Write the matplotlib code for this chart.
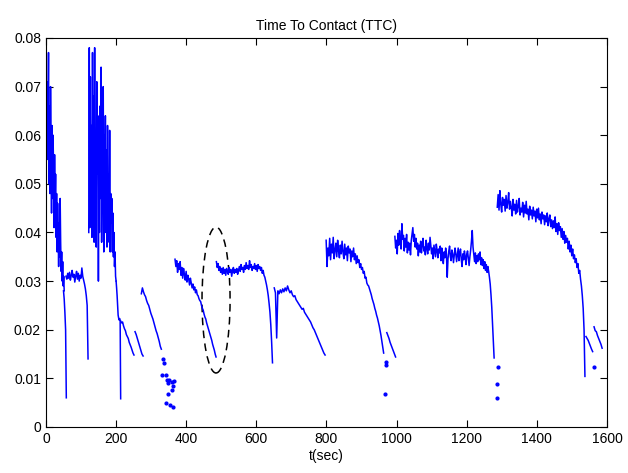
import numpy as np
import matplotlib.pyplot as plt
from matplotlib.patches import Ellipse

plt.rcParams['font.family'] = ['Liberation Sans', 'DejaVu Sans']

# TTC samples, values in units of 1e-3
# each segment: start time, end time (sec), samples
seg_a = [62, 70, 55, 71, 64, 77, 50, 66, 48, 70, 58, 44, 62, 47, 60, 53, 41, 56, 45,
         52, 39, 48, 36, 46, 40, 33, 42, 35, 47, 38, 32, 36, 30, 34, 29, 31, 28]
seg_a_drop = [28.0, 26.3, 23.5, 20.0, 6.0]
seg_b = [31.0, 30.4, 31.6, 30.6, 31.8, 30.2, 31.2, 32.2, 30.8, 31.4, 29.8, 31.0, 32.0,
         30.4, 31.6, 30.0, 31.2, 30.6, 32.7, 31.0, 30.2, 29.4, 28.4, 27.0, 25.0, 14.0]
seg_c = [40, 78, 41, 72, 45, 62, 39, 77, 50, 68, 38, 78, 44, 60, 37, 71, 52, 64, 30, 58,
         40, 66, 47, 74, 38, 55, 44, 70, 36, 60, 48, 64, 40, 57, 37, 62, 45, 52, 38, 61,
         36, 48, 42, 47, 36, 44, 35, 40, 33, 36, 31, 30]
seg_c_tail = [30.0, 28.6, 27.0, 25.0, 23.0, 22.4, 22.0, 22.3, 21.8, 5.8]
seg_d = [21.8, 21.4, 21.6, 20.8, 20.2, 19.8, 19.0, 18.6, 18.2, 17.4, 16.9, 16.4, 15.8,
         15.2, 14.8]
seg_e = [19.6, 19.0, 18.2, 17.4, 16.6, 15.8, 15.0, 14.6]
seg_f = [27.4, 28.6, 27.8, 27.2, 26.8, 26.0, 25.4, 25.0, 24.2, 23.4, 22.8, 22.2, 21.4,
         20.6, 19.8, 19.2, 18.4, 17.6, 16.6, 16.0]
seg_g = [34.5, 33.0, 34.2, 31.8, 33.6, 32.4, 34.0, 31.2, 32.8, 30.6, 32.6, 31.4, 30.2,
         32.0, 29.8, 31.2, 30.4, 29.2, 30.6, 29.6, 28.6, 29.4, 28.2, 28.8, 27.6, 28.2,
         27.2, 27.0, 26.4, 26.0, 25.8, 25.0, 24.4, 24.0, 23.2, 22.6, 22.2, 21.4, 20.8,
         20.2, 19.6, 19.0, 18.4, 17.8, 17.0, 16.4, 15.8, 15.0, 14.4]
seg_h = [34.0, 32.8, 33.6, 32.2, 33.0, 31.8, 32.6, 31.4, 32.8, 31.6, 32.4, 31.2, 32.6,
         32.0, 31.4, 32.8, 31.8, 32.4, 31.0, 32.2, 32.8, 31.6, 32.4, 31.8, 32.6, 31.4,
         32.2, 33.0, 32.0, 33.4, 32.4, 32.8, 31.8, 33.2, 32.4, 33.8, 32.6, 33.2, 32.4,
         34.2, 32.8, 33.4, 32.2, 33.0, 32.6, 33.6, 32.4, 33.2, 32.0, 33.4, 32.6, 33.0,
         32.2, 32.8, 31.6, 32.2, 31.2, 30.8, 30.0, 29.2, 28.2, 27.0, 25.4, 23.6, 21.0,
         17.4, 13.2]
seg_i = [28.6, 27.6, 18.3, 28.0, 27.4, 28.2, 27.6, 28.4, 27.8, 28.6, 28.0, 29.0, 28.2,
         27.6, 28.0, 27.2, 26.8, 27.0, 26.2, 25.8, 25.4, 25.0, 24.6, 24.2, 24.4, 23.6,
         23.2, 22.8, 22.4, 22.0, 21.6, 21.0, 20.4, 20.0, 19.4, 18.8, 18.2, 17.6, 17.0,
         16.4, 15.8, 15.2, 14.8]
seg_j = [38.4, 33.0, 36.8, 35.2, 38.8, 34.4, 37.6, 35.8, 39.0, 34.6, 36.4, 37.8, 35.0,
         38.4, 36.2, 34.8, 37.4, 35.6, 38.2, 36.0, 34.6, 37.6, 35.4, 36.8, 34.2, 37.2,
         35.8, 36.6, 34.0, 36.2, 35.0, 36.8, 34.4, 35.6, 33.6, 35.2, 33.8, 34.4, 32.8,
         33.6, 32.4, 32.8, 31.6, 32.0, 30.6, 30.8, 29.6, 29.2, 29.0, 28.4, 27.8, 27.2,
         26.4, 25.8, 25.2, 24.4, 23.8, 23.0, 22.4, 21.6, 20.8, 19.8, 18.8, 17.6, 16.4,
         15.2]
seg_k = [19.4, 18.8, 18.2, 17.4, 16.8, 16.2, 15.6, 15.0, 14.4]
seg_l = [39.2, 36.8, 38.4, 35.6, 39.8, 37.4, 40.4, 38.2, 36.6, 41.8, 38.6, 39.4, 36.2,
         38.8, 37.0, 39.6, 35.8, 38.0, 36.4, 37.8, 35.4, 38.4, 39.8, 41.0, 38.2, 39.6,
         37.0, 38.8, 36.6, 37.8, 35.2, 37.4, 36.0, 38.2, 35.8, 37.6, 38.8, 36.2, 37.0,
         35.4, 38.4, 36.8, 35.6, 37.8, 36.4, 39.0, 37.2, 35.6, 36.8, 34.6, 37.4, 36.2,
         35.0, 37.6, 36.4, 34.8, 36.6, 35.8, 37.2, 34.2, 36.8, 35.4, 33.6, 36.0, 34.8,
         36.8, 35.4, 30.8, 34.6, 36.2, 37.2, 35.0, 34.2, 36.4, 35.6, 33.8, 35.2, 36.8,
         35.6, 34.0, 35.4, 36.8, 34.2, 35.8, 36.6, 34.4, 33.0, 35.6, 34.4, 36.2, 35.0,
         33.4, 35.6, 36.2, 34.6, 33.2, 35.0, 36.4, 38.2, 40.4, 37.0, 35.4, 34.0, 35.8,
         33.6, 35.2, 34.0, 35.6, 34.4, 36.0, 33.4, 34.8, 33.2, 34.4, 32.6, 34.0, 32.2,
         33.4, 31.8, 33.0, 32.0, 30.8, 29.4, 27.2, 24.6, 21.0, 17.6, 14.2]
seg_m = [45.2, 47.8, 44.6, 48.6, 45.8, 44.2, 47.2, 45.6, 46.8, 44.4, 47.6, 45.0, 46.2,
         48.2, 44.8, 46.4, 45.2, 43.4, 46.8, 44.6, 45.8, 43.8, 46.6, 44.2, 45.4, 47.0,
         43.6, 45.0, 44.2, 46.2, 43.2, 45.6, 44.0, 46.4, 43.8, 44.8, 42.6, 45.4, 43.6,
         44.6, 42.8, 45.2, 43.4, 44.4, 42.2, 44.8, 43.0, 45.0, 42.6, 43.8, 41.8, 44.2,
         42.8, 43.6, 41.6, 43.4, 42.2, 44.0, 41.4, 42.8, 43.6, 41.2, 42.6, 40.8, 42.4,
         41.0, 43.2, 40.2, 41.8, 39.6, 42.0, 40.4, 41.2, 39.0, 40.8, 38.6, 40.2, 37.8,
         39.4, 38.0, 38.8, 36.6, 38.2, 36.0, 37.4, 35.2, 36.6, 34.6, 35.4, 33.8, 34.6,
         32.8, 33.6, 31.6, 32.2, 30.4, 29.0, 27.0, 24.4, 20.0, 10.4]
seg_m_tail = [18.6, 18.2, 17.8, 17.2, 16.6, 16.0, 15.5]
seg_n = [20.6, 19.8, 19.6, 18.8, 18.2, 17.6, 17.0, 16.2]

segments = [
    (0, 52, seg_a), (50, 58, seg_a_drop), (57, 120, seg_b), (122, 200, seg_c),
    (200, 213, seg_c_tail), (213, 251, seg_d), (254, 277, seg_e), (272, 329, seg_f),
    (368, 485, seg_g), (486, 646, seg_h), (651, 796, seg_i), (799, 963, seg_j),
    (972, 997, seg_k), (995, 1278, seg_l), (1287, 1537, seg_m), (1540, 1559, seg_m_tail),
    (1563, 1586, seg_n),
]

# isolated samples
dot_t = [335, 336.6, 330, 342, 344, 352, 358.5, 366, 349, 361, 358.5, 349, 342, 354, 363,
         969, 970, 967, 1288, 1285.5, 1285.5, 1563]
dot_v = [13.9, 13.1, 10.7, 10.7, 9.7, 9.7, 9.3, 9.5, 9.0, 8.4, 7.6, 6.8, 4.9, 4.5, 4.1,
         13.4, 12.8, 6.8, 12.4, 8.9, 6.0, 12.4]

fig = plt.figure(figsize=(6.28, 4.73), dpi=100)
ax = fig.add_axes([0.0732, 0.0973, 0.8934, 0.8224])

for t0, t1, vals in segments:
    t = np.linspace(t0, t1, len(vals))
    ax.plot(t, np.array(vals) * 1e-3, color='#0000ff', lw=1.1)

ax.plot(dot_t, np.array(dot_v) * 1e-3, '.', color='#0000ff', markersize=4)

ax.add_patch(Ellipse((485, 0.0261), 80, 0.030, fill=False, edgecolor='black',
                     lw=1.1, linestyle=(0, (5, 3.5))))

ax.set_xlim(0, 1600)
ax.set_ylim(0, 0.08)
ax.set_xticks(np.arange(0, 1601, 200))
ax.set_yticks(np.arange(0, 0.081, 0.01))
ax.set_yticklabels(['0', '0.01', '0.02', '0.03', '0.04', '0.05', '0.06', '0.07', '0.08'])
ax.tick_params(direction='in', top=True, right=True, length=5, labelsize=10)
for s in ax.spines.values():
    s.set_linewidth(0.8)

ax.set_title('Time To Contact (TTC)', fontsize=10, pad=6)
ax.set_xlabel('t(sec)', fontsize=10, labelpad=2)

fig.savefig('out.png', dpi=100)
